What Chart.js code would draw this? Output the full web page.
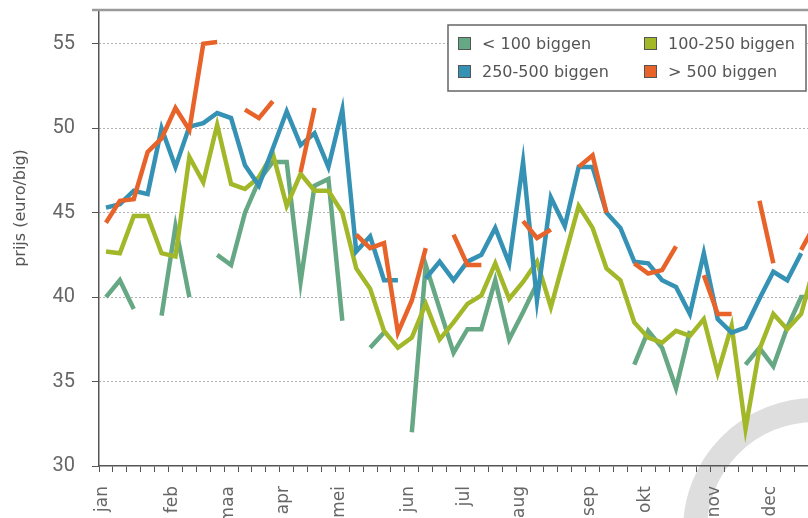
<!DOCTYPE html>
<html>
<head>
<meta charset="utf-8">
<script src="https://cdn.jsdelivr.net/npm/chart.js@4.4.1/dist/chart.umd.min.js"></script>
<style>
  html, body { margin: 0; padding: 0; background: #fff; }
  #wrap { width: 808px; height: 518px; overflow: hidden; }
  canvas { display: block; }
</style>
</head>
<body>
<div id="wrap"><canvas id="prijsChart" width="830" height="518"></canvas></div>
<script>
// weeknummers en maandlabels
const weeks = [1, 2, 3, 4, 5, 6, 7, 8, 9, 10, 11, 12, 13, 14, 15, 16, 17, 18, 19, 20, 21, 22, 23, 24, 25, 26,
               27, 28, 29, 30, 31, 32, 33, 34, 35, 36, 37, 38, 39, 40, 41, 42, 43, 44, 45, 46, 47, 48, 49, 50, 51, 52];
const monthNames = ['jan', 'feb', 'maa', 'apr', 'mei', 'jun', 'jul', 'aug', 'sep', 'okt', 'nov', 'dec'];
const monthStartWeeks = [1, 6, 10, 14, 18, 23, 27, 31, 36, 40, 45, 49];

// prijs (euro/big) per week
const lt100 = [40.0, 41.0, 39.3, null, 38.9, 44.2, 40.0, null, 42.5, 41.9, 45.0, 46.9, 48.0, 48.0, 40.9, 46.6, 47.0, 38.6, null, 37.0,
               37.9, null, 32.0, 41.9, 39.3, 36.7, 38.1, 38.1, 41.0, 37.5, 39.1, 40.8, null, null, null, null, null, null, 36.0, 38.0,
               37.0, 34.6, 38.0, null, null, null, 36.0, 37.0, 35.9, 38.2, 40.0, 40.0];
const b100_250 = [42.7, 42.6, 44.8, 44.8, 42.6, 42.4, 48.3, 46.8, 50.2, 46.7, 46.4, 47.1, 48.5, 45.4, 47.3, 46.3, 46.3, 45.0, 41.7, 40.5,
                  38.0, 37.0, 37.6, 39.6, 37.5, 38.5, 39.6, 40.1, 42.0, 39.9, 40.9, 42.1, 39.4, 42.4, 45.4, 44.1, 41.7, 41.0, 38.5, 37.6,
                  37.3, 38.0, 37.7, 38.7, 35.5, 38.3, 32.2, 36.9, 39.0, 38.1, 39.0, 42.0];
const b250_500 = [45.3, 45.5, 46.3, 46.1, 50.0, 47.7, 50.1, 50.3, 50.9, 50.6, 47.8, 46.6, 48.8, 51.0, 49.0, 49.7, 47.7, 51.1, 42.7, 43.6,
                  41.0, 41.0, null, 41.1, 42.1, 41.0, 42.1, 42.5, 44.1, 42.0, 48.0, 39.8, 45.9, 44.2, 47.7, 47.7, 45.0, 44.1, 42.1, 42.0,
                  41.0, 40.6, 39.0, 42.6, 38.7, 37.9, 38.2, 39.9, 41.5, 41.0, 42.6, null];
const gt500 = [44.4, 45.7, 45.8, 48.6, 49.4, 51.2, 49.9, 55.0, 55.1, null, 51.1, 50.6, 51.6, null, 47.4, 51.2, null, null, 43.7, 42.9,
               43.2, 37.9, 39.8, 42.9, null, 43.7, 41.9, 41.9, null, null, 44.5, 43.5, 44.0, null, 47.7, 48.4, 45.0, null, 42.0, 41.4,
               41.6, 43.0, null, 41.3, 39.0, 39.0, null, 45.7, 42.0, null, 42.8, 44.3];

const green = '#66a784';
const lime = '#a3b829';
const blue = '#3592b4';
const orange = '#e8632a';

// lichtgrijs logo op de achtergrond
const watermark = {
    id: 'watermark',
    beforeDraw(chart) {
        const ctx = chart.ctx;
        ctx.save();
        ctx.strokeStyle = '#dedede';
        ctx.lineWidth = 24;
        ctx.beginPath();
        ctx.arc(815, 530, 120, Math.PI, 1.5 * Math.PI);
        ctx.stroke();
        ctx.restore();
    }
};

const frameAndLegend = {
    id: 'frameAndLegend',
    afterDraw(chart) {
        const ctx = chart.ctx;
        ctx.save();
        // bovenrand
        ctx.strokeStyle = '#9a9a9a';
        ctx.lineWidth = 2.5;
        ctx.beginPath();
        ctx.moveTo(92, chart.chartArea.top);
        ctx.lineTo(chart.width, chart.chartArea.top);
        ctx.stroke();

        // as-titel
        ctx.fillStyle = '#555';
        ctx.font = '16px "DejaVu Sans"';
        ctx.textAlign = 'center';
        ctx.textBaseline = 'middle';
        ctx.translate(21, 208);
        ctx.rotate(-Math.PI / 2);
        ctx.fillText('prijs (euro/big)', 0, 0);
        ctx.setTransform(1, 0, 0, 1, 0, 0);

        // legenda
        ctx.fillStyle = '#fff';
        ctx.fillRect(448, 25, 358, 66);
        ctx.strokeStyle = '#666';
        ctx.lineWidth = 1.5;
        ctx.strokeRect(448, 25, 358, 66);
        const cols = [458, 644];
        const rows = [37, 65];
        ctx.font = '16px "DejaVu Sans"';
        ctx.textAlign = 'left';
        ctx.textBaseline = 'alphabetic';
        chart.data.datasets.forEach((ds, i) => {
            const x = cols[i % 2];
            const y = rows[Math.floor(i / 2)];
            ctx.fillStyle = ds.borderColor;
            ctx.fillRect(x, y, 13, 13);
            ctx.strokeStyle = '#555';
            ctx.lineWidth = 1;
            ctx.strokeRect(x + 0.5, y + 0.5, 12, 12);
            ctx.fillStyle = '#555';
            ctx.fillText(ds.label, x + 24, y + 12);
        });
        ctx.restore();
    }
};

new Chart(document.getElementById('prijsChart'), {
    type: 'line',
    data: {
        labels: weeks,
        datasets: [
            { label: '< 100 biggen', data: lt100, borderColor: green, order: 4 },
            { label: '100-250 biggen', data: b100_250, borderColor: lime, order: 3 },
            { label: '250-500 biggen', data: b250_500, borderColor: blue, order: 2 },
            { label: '> 500 biggen', data: gt500, borderColor: orange, order: 1 },
        ]
    },
    options: {
        responsive: false,
        animation: false,
        layout: { padding: { top: 10, right: 8, bottom: 0, left: 0 } },
        elements: { point: { radius: 0 }, line: { borderWidth: 4.5, tension: 0 } },
        plugins: { legend: { display: false }, tooltip: { enabled: false } },
        scales: {
            x: {
                offset: true,
                grid: { offset: true, drawOnChartArea: false, tickLength: 6, tickColor: '#555', tickWidth: 1, tickBorderDash: [] },
                border: { color: '#555', width: 1.5 },
                ticks: {
                    autoSkip: false, maxRotation: 90, minRotation: 90, padding: 14, labelOffset: -3,
                    color: '#666', font: { family: 'DejaVu Sans', size: 17 },
                    callback: (v, i) => {
                        const m = monthStartWeeks.indexOf(weeks[i]);
                        return m >= 0 ? monthNames[m] : '';
                    }
                },
                afterFit: s => { s.height = 52; s.paddingLeft = 0; s.paddingRight = 0; }
            },
            y: {
                min: 30, max: 57,
                grid: {
                    color: c => (c.tick && c.tick.value === 30) ? 'rgba(0,0,0,0)' : '#666',
                    lineWidth: 1, tickLength: 7, tickColor: '#555', tickBorderDash: []
                },
                border: { color: '#555', width: 1.5, dash: [1, 3] },
                ticks: {
                    stepSize: 5, includeBounds: false, padding: 17, color: '#666',
                    font: { family: 'Roboto', size: 20 }
                },
                afterFit: s => { s.width = 99; s.paddingTop = 0; s.paddingBottom = 0; }
            }
        }
    },
    plugins: [watermark, frameAndLegend]
});
</script>
</body>
</html>
